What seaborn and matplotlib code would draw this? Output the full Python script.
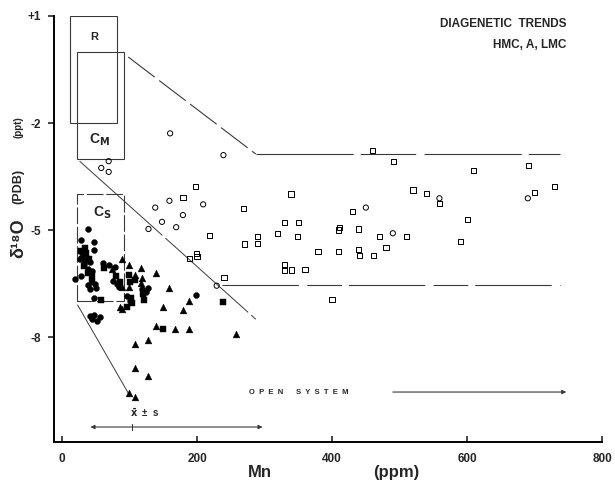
import matplotlib
matplotlib.use("Agg")
import pandas as pd
import seaborn as sns
from matplotlib import pyplot as plt
from matplotlib.patches import Rectangle

# ---- data (Mn ppm, d18O ppt PDB) ----
fc_mn = [39, 28, 48, 48, 19, 28, 39, 41, 49, 50, 41, 48, 56, 51, 44, 61, 70, 78, 76, 82,
         84, 198, 96, 100, 118, 124, 128, 30, 36, 42, 32, 38, 44, 26, 47]
fc_d = [-4.97, -5.28, -5.34, -5.56, -6.36, -6.28, -6.54, -6.65, -6.5, -6.62, -7.42, -7.38,
        -7.45, -7.55, -7.5, -5.93, -5.98, -6.03, -6.42, -6.5, -6.6, -6.82, -6.85, -7.0,
        -6.65, -6.75, -6.62, -5.65, -5.75, -5.9, -5.95, -6.1, -6.15, -5.8, -6.9]

fs_mn = [28, 32, 35, 30, 36, 40, 33, 58, 99, 108, 101, 150, 238, 80, 86, 102, 104, 120,
         122, 44, 45, 62, 96, 34, 38]
fs_d = [-5.6, -5.7, -5.65, -5.8, -5.85, -5.8, -6.0, -6.96, -6.26, -6.4, -6.45, -7.78,
        -7.01, -6.3, -6.45, -6.9, -7.05, -6.8, -6.95, -6.3, -6.45, -6.05, -7.15, -5.5, -6.2]

ft_mn = [89, 99, 117, 139, 158, 99, 117, 188, 149, 179, 89, 139, 168, 188, 258, 128, 108,
         108, 128, 99, 108, 108, 118, 89, 86, 74]
ft_d = [-5.82, -5.98, -6.07, -6.2, -6.63, -6.59, -6.49, -6.99, -7.17, -7.24, -7.22, -7.69,
        -7.78, -7.78, -7.9, -8.08, -8.2, -8.86, -9.09, -9.56, -9.67, -6.26, -6.35, -6.59,
        -7.15, -6.1]

oc_mn = [160, 239, 69, 58, 69, 138, 159, 209, 179, 148, 169, 128, 229, 450, 490, 559, 690]
oc_d = [-2.29, -2.90, -3.07, -3.26, -3.37, -4.37, -4.18, -4.28, -4.58, -4.77, -4.92, -4.97,
        -6.56, -4.37, -5.09, -4.11, -4.11]

os_mn = [198, 179, 269, 218, 290, 290, 270, 319, 199, 200, 189, 240, 460, 491, 339, 430,
         330, 350, 349, 411, 409, 439, 470, 510, 480, 379, 409, 439, 441, 461, 330, 330,
         340, 360, 400, 520, 540, 559, 691, 610, 730, 700, 601, 590]
os_d = [-3.78, -4.09, -4.39, -5.15, -5.19, -5.37, -5.39, -5.09, -5.65, -5.75, -5.79, -6.33,
        -2.78, -3.08, -3.99, -4.49, -4.79, -4.79, -5.19, -4.93, -5.0, -4.97, -5.19, -5.19,
        -5.5, -5.59, -5.61, -5.54, -5.72, -5.72, -5.98, -6.12, -6.12, -6.1, -6.94, -3.88,
        -3.97, -4.25, -3.18, -3.32, -3.79, -3.95, -4.70, -5.33]

# boxes: (Mn min, Mn max, d18O min, d18O max)
box_r = (12, 82, -2.0, 1.0)
box_cm = (22, 92, -3.0, 0.0)
box_cs = (22, 91, -7.0, -4.0)

# trend lines
upper_diag_mn, upper_diag_d = [98, 287], [-0.15, -2.87]
upper_flat_mn, upper_flat_d = [287, 738], [-2.87, -2.87]
mid_diag_mn, mid_diag_d = [26, 287], [-3.07, -7.5]
mid_flat_mn, mid_flat_d = [237, 738], [-6.55, -6.55]
low_diag_mn, low_diag_d = [23, 98], [-7.1, -9.57]

mean_mn, mean_lo, mean_hi, mean_y = 103, 42, 297, -10.52
open_lo, open_hi, open_y = 490, 747, -9.54

x_ticks = [0, 200, 400, 600, 800]
y_ticks = [1, -2, -5, -8]
y_tick_labels = ["+1", "-2", "-5", "-8"]

# ---- plotting ----
sns.set_theme(style="ticks")
plt.rcParams["font.family"] = ["Liberation Sans", "DejaVu Sans"]
plt.rcParams["font.weight"] = "bold"
plt.rcParams["lines.scale_dashes"] = False

fig = plt.figure(figsize=(6.15, 4.84), dpi=100)
ax = fig.add_axes([0.0878, 0.0868, 0.8912, 0.8802])

groups = [
    (fc_mn, fc_d, "o", True, 18),
    (fs_mn, fs_d, "s", True, 18),
    (ft_mn, ft_d, "^", True, 24),
    (oc_mn, oc_d, "o", False, 14),
    (os_mn, os_d, "s", False, 14),
]
for mn, d, mk, filled, size in groups:
    df = pd.DataFrame({"Mn": mn, "d18O": d})
    if filled:
        sns.scatterplot(data=df, x="Mn", y="d18O", marker=mk, s=size, color="black",
                        edgecolor="black", linewidth=0.3, ax=ax, zorder=3)
    else:
        sns.scatterplot(data=df, x="Mn", y="d18O", marker=mk, s=size, facecolors="none",
                        edgecolor="black", linewidth=0.7, ax=ax, zorder=3)

lc = "#3a3a3a"
for b, ls in [(box_r, "-"), (box_cm, "-"), (box_cs, (0, (12, 2)))]:
    ax.add_patch(Rectangle((b[0], b[2]), b[1] - b[0], b[3] - b[2], fill=False,
                           edgecolor=lc, linewidth=0.8, linestyle=ls))

ax.plot(upper_diag_mn, upper_diag_d, color=lc, lw=0.8, ls=(0, (24, 4)))
ax.plot(upper_flat_mn, upper_flat_d, color=lc, lw=0.8, ls=(0, (70, 5, 40, 6)))
ax.plot(mid_diag_mn, mid_diag_d, color=lc, lw=0.7, ls=(0, (80, 3)))
ax.plot(mid_flat_mn, mid_flat_d, color=lc, lw=0.8, ls=(0, (55, 6, 25, 5)))
ax.plot(low_diag_mn, low_diag_d, color=lc, lw=0.7)

ax.annotate("", xy=(mean_lo, mean_y), xytext=(mean_hi, mean_y),
            arrowprops=dict(arrowstyle="<|-|>", color=lc, lw=0.8, mutation_scale=6,
                            shrinkA=0, shrinkB=0))
ax.plot([mean_mn, mean_mn], [mean_y - 0.08, mean_y + 0.08], color=lc, lw=0.8)
ax.text(mean_mn - 3, mean_y + 0.22, r"$\bar{\mathbf{x}}$  ±  s", fontsize=7,
        fontweight="bold", va="bottom", ha="left")

ax.annotate("", xy=(open_hi, open_y), xytext=(open_lo, open_y),
            arrowprops=dict(arrowstyle="-|>", color=lc, lw=0.8, mutation_scale=6,
                            shrinkA=0, shrinkB=0))
ax.text(277, open_y, "O  P  E  N      S  Y  S  T  E  M", fontsize=5.5,
        fontweight="bold", va="center", ha="left")

ax.text(47, 0.42, "R", fontsize=8, fontweight="bold", ha="center", va="center")
ax.text(55, -2.48, r"C$_{\mathbf{M}}$", fontsize=10, fontweight="bold",
        ha="center", va="center")
ax.text(59, -4.52, r"C$_{\mathbf{S}}$", fontsize=10, fontweight="bold",
        ha="center", va="center")

ax.text(747, 0.78, "DIAGENETIC  TRENDS", fontsize=8.5, fontweight="bold",
        ha="right", va="center")
ax.text(747, 0.19, "HMC, A, LMC", fontsize=8.5, fontweight="bold",
        ha="right", va="center")

ax.set_xlim(-12, 800)
ax.set_ylim(-10.94, 1.0)
ax.set_xticks(x_ticks)
ax.set_xticklabels([str(t) for t in x_ticks], fontsize=8.5, fontweight="bold")
ax.set_yticks(y_ticks)
ax.set_yticklabels(y_tick_labels, fontsize=8.5, fontweight="bold")
ax.tick_params(axis="x", direction="in", length=4, width=1.2, pad=8)
ax.tick_params(axis="y", direction="out", length=4, width=1.2, pad=5)
ax.set_xlabel("")
ax.set_ylabel("")
sns.despine(ax=ax)
for sp in ["left", "bottom"]:
    ax.spines[sp].set_linewidth(1.4)
    ax.spines[sp].set_color("black")

fig.text(0.423, 0.023, "Mn", fontsize=12, fontweight="bold", ha="center", va="center")
fig.text(0.645, 0.023, "(ppm)", fontsize=12, fontweight="bold", ha="center", va="center")
fig.text(0.030, 0.508, "δ¹⁸O", fontsize=13, fontweight="bold", rotation=90,
         ha="center", va="center")
fig.text(0.030, 0.614, "(PDB)", fontsize=9, fontweight="bold", rotation=90,
         ha="center", va="center")
fig.text(0.030, 0.738, "(ppt)", fontsize=7, fontweight="bold", rotation=90,
         ha="center", va="center")

fig.savefig("out.png", dpi=100)
